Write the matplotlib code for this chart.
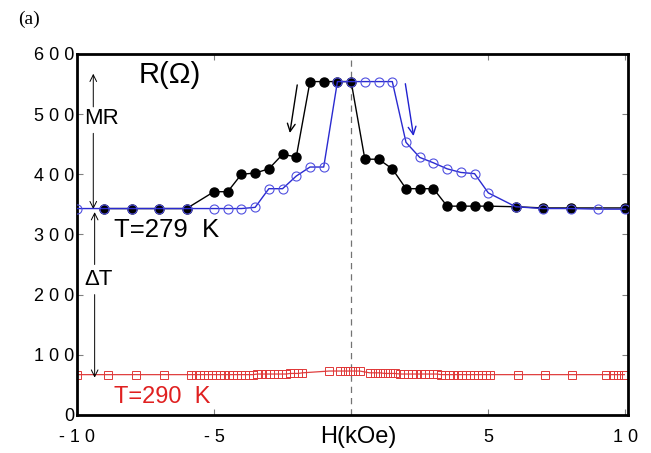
import matplotlib
matplotlib.use("Agg")
import matplotlib.pyplot as plt

plt.rcParams['font.family'] = ['Liberation Sans', 'DejaVu Sans']

# T=279 K, field sweep down (filled black)
h_down = [-9, -8, -7, -6, -5, -4.5, -4, -3.5, -3, -2.5, -2, -1.5, -1, -0.5, 0,
          0.5, 1, 1.5, 2, 2.5, 3, 3.5, 4, 4.5, 5, 6, 7, 8, 10]
r_down = [343, 343, 343, 343, 371, 371, 400, 402, 409, 433, 429, 554, 554, 554, 554,
          425, 425, 409, 376, 376, 376, 347, 347, 347, 347, 346, 344, 344, 344]

# T=279 K, field sweep up (open blue)
h_up = [-10, -9, -8, -7, -6, -5, -4.5, -4, -3.5, -3, -2.5, -2, -1.5, -1, -0.5, 0,
        0.5, 1, 1.5, 2, 2.5, 3, 3.5, 4, 4.5, 5, 6, 7, 8, 9, 10]
r_up = [343, 343, 343, 343, 343, 343, 343, 343, 345, 376, 376, 397, 412, 412, 554, 554,
        554, 554, 554, 453, 428, 419, 409, 403, 401, 369, 346, 343, 343, 342, 342]

# T=290 K (open red squares)
h_290 = [-10, -8.85, -7.85, -6.83, -5.82, -5.67, -5.52, -5.37, -5.22, -5.07, -4.92,
         -4.77, -4.62, -4.47, -4.32, -4.17, -4.02, -3.87, -3.72, -3.57, -3.42, -3.27,
         -3.12, -2.97, -2.82, -2.67, -2.52, -2.37, -2.22, -2.07, -1.92, -1.78,
         -0.79, -0.42, -0.24, -0.05, 0.13, 0.31,
         0.68, 0.86, 1.04, 1.23, 1.41, 1.59, 1.78, 1.93, 2.08, 2.23, 2.38, 2.53,
         2.68, 2.83, 2.98, 3.13, 3.28, 3.43, 3.58, 3.73, 3.88, 4.03, 4.18, 4.33,
         4.48, 4.63, 4.78, 4.93, 5.07, 6.07, 7.05, 8.04, 9.29, 9.53, 9.74, 9.96]
r_290 = [67, 67, 67, 67, 67, 67, 67, 67, 67, 67, 67,
         67, 67, 67, 67, 67, 67, 67, 67, 67, 68, 68,
         68, 68, 68, 68, 68, 68, 69, 69, 69, 70,
         73, 73, 73, 73, 73, 73,
         70, 70, 70, 69, 69, 69, 68, 68, 68, 68, 68, 68,
         68, 68, 68, 68, 67, 67, 67, 67, 67, 67, 67, 67,
         67, 67, 67, 67, 67, 67, 67, 67, 67, 67, 67, 67]

x_ticks = [-10, -5, 5, 10]
x_tick_labels = ['- 1 0', '- 5', '5', '1 0']
y_ticks = [0, 100, 200, 300, 400, 500, 600]
y_tick_labels = ['0', '1 0 0', '2 0 0', '3 0 0', '4 0 0', '5 0 0', '6 0 0']

fig = plt.figure(figsize=(6.51, 4.53), dpi=100)
ax = fig.add_axes([0.118, 0.084, 0.847, 0.797])

ax.axvline(0, color='0.45', lw=0.9, ls=(0, (5, 4)), zorder=1)

ax.plot(h_290, r_290, color='#e04040', lw=0.9, marker='s', ms=5.5,
        mfc='none', mec='#e03838', mew=0.7, zorder=2)
ax.plot(h_down, r_down, color='black', lw=1.0, marker='o', ms=6.5,
        mfc='black', mec='black', zorder=3)
ax.plot(h_up, r_up, color='#2a2ad0', lw=1.0, marker='o', ms=6.5,
        mfc='none', mec='#5050e0', mew=0.8, zorder=4)

ax.set_xlim(-10, 10.1)
ax.set_ylim(0, 600)
ax.set_xticks(x_ticks)
ax.set_xticklabels(x_tick_labels)
ax.set_yticks(y_ticks)
ax.set_yticklabels(y_tick_labels)
ax.tick_params(direction='in', length=4, width=0.8, top=True, right=True,
               labelsize=13, color='0.5')
ax.tick_params(axis='x', pad=10)
ax.tick_params(axis='y', pad=2)
for s in ax.spines.values():
    s.set_linewidth(2.0)

# x label sits on the tick label row
ax.text(0.25, -0.062, 'H(kOe)', fontsize=17, ha='center', va='center',
        transform=ax.get_xaxis_transform())

# annotations
ax.text(-7.75, 565, 'R(Ω)', fontsize=21, ha='left', va='center')
ax.text(-9.1, 492, 'MR', fontsize=16, ha='center', va='center')
ax.text(-8.66, 308, 'T=279  K', fontsize=18.5, ha='left', va='center')
ax.text(-9.2, 225, 'ΔT', fontsize=16, ha='center', va='center')
ax.text(-8.66, 30, 'T=290  K', fontsize=17, ha='left', va='center', color='#e02020')

arr = dict(arrowstyle='->', color='black', lw=0.7, shrinkA=0, shrinkB=0,
           mutation_scale=12)
ax.annotate('', xy=(-9.4, 567), xytext=(-9.4, 512), arrowprops=arr)
ax.annotate('', xy=(-9.4, 342), xytext=(-9.4, 468), arrowprops=arr)
ax.annotate('', xy=(-9.35, 337), xytext=(-9.35, 250), arrowprops=arr)
ax.annotate('', xy=(-9.35, 62), xytext=(-9.35, 200), arrowprops=arr)

ax.annotate('', xy=(-2.25, 464), xytext=(-1.95, 553),
            arrowprops=dict(arrowstyle='->', color='black', lw=1.0, mutation_scale=14))
ax.annotate('', xy=(2.29, 459), xytext=(1.96, 555),
            arrowprops=dict(arrowstyle='->', color='#2020d0', lw=1.0, mutation_scale=14))

fig.text(0.028, 0.958, '(a)', fontsize=14, family='Liberation Serif', ha='left', va='center')

fig.savefig('out.png', dpi=100)
